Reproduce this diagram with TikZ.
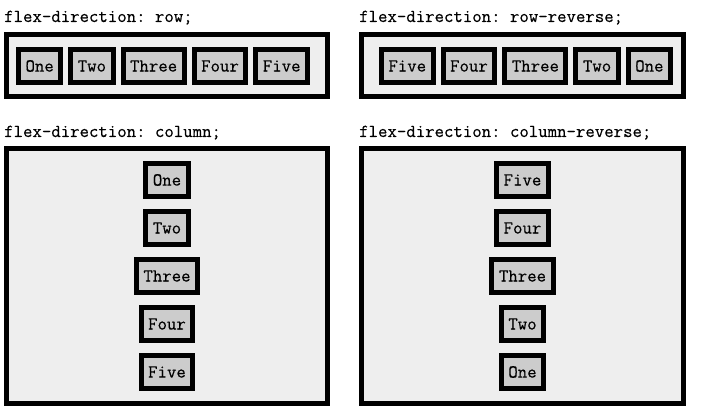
\documentclass[tikz,border=0pt]{standalone}
\usepackage{fontspec}
\newfontfamily\flexfont{Latin Modern Mono}[FakeBold=0.4]
\usepackage{xcolor}
\usepackage{tikz}
\usetikzlibrary{positioning}
\definecolor{boxgray}{HTML}{EEEEEE}
\definecolor{itemgray}{HTML}{CCCCCC}
\tikzset{flexbox/.style={draw, line width=5pt, fill=boxgray, anchor=north west, inner sep=0pt}}
\tikzset{item/.style={draw, line width=5pt, fill=itemgray, inner xsep=7pt, inner ysep=0pt, minimum height=33pt, font=\flexfont\fontsize{18.3}{18}\selectfont}}
\tikzset{title/.style={anchor=base west, inner sep=0pt, font=\flexfont\fontsize{18.3}{18}\selectfont}}

\begin{document}
\frenchspacing
\begin{tikzpicture}[x=1pt, y=-1pt]
\useasboundingbox (0,0) rectangle (714,419);
\node[title] (t1) at (4,22) {flex-direction: row;};
\node[title] (t2) at (359,22) {flex-direction: row-reverse;};
\node[title] (t3) at (4,137) {flex-direction: column;};
\node[title] (t4) at (359,137) {flex-direction: column-reverse;};

\node[flexbox, minimum width=321pt, minimum height=62pt] (row) at (4,32) {};
\node[flexbox, minimum width=322pt, minimum height=62pt] (rowrev) at (359,32) {};
\node[flexbox, minimum width=321pt, minimum height=255pt] (col) at (4,146) {};
\node[flexbox, minimum width=322pt, minimum height=255pt] (colrev) at (359,146) {};

\node[item, anchor=west] (r1) at (16,66) {One};
\node[item, right=5pt of r1] (r2) {Two};
\node[item, right=5pt of r2] (r3) {Three};
\node[item, right=5pt of r3] (r4) {Four};
\node[item, right=5pt of r4] (r5) {Five};

\node[item, anchor=east] (rr1) at (673,66) {One};
\node[item, left=5pt of rr1] (rr2) {Two};
\node[item, left=5pt of rr2] (rr3) {Three};
\node[item, left=5pt of rr3] (rr4) {Four};
\node[item, left=5pt of rr4] (rr5) {Five};

\node[item] (c1) at (167,180) {One};
\node[item, below=10pt of c1] (c2) {Two};
\node[item, below=10pt of c2] (c3) {Three};
\node[item, below=10pt of c3] (c4) {Four};
\node[item, below=10pt of c4] (c5) {Five};

\node[item] (cr5) at (522.5,180) {Five};
\node[item, below=10pt of cr5] (cr4) {Four};
\node[item, below=10pt of cr4] (cr3) {Three};
\node[item, below=10pt of cr3] (cr2) {Two};
\node[item, below=10pt of cr2] (cr1) {One};
\end{tikzpicture}
\end{document}
